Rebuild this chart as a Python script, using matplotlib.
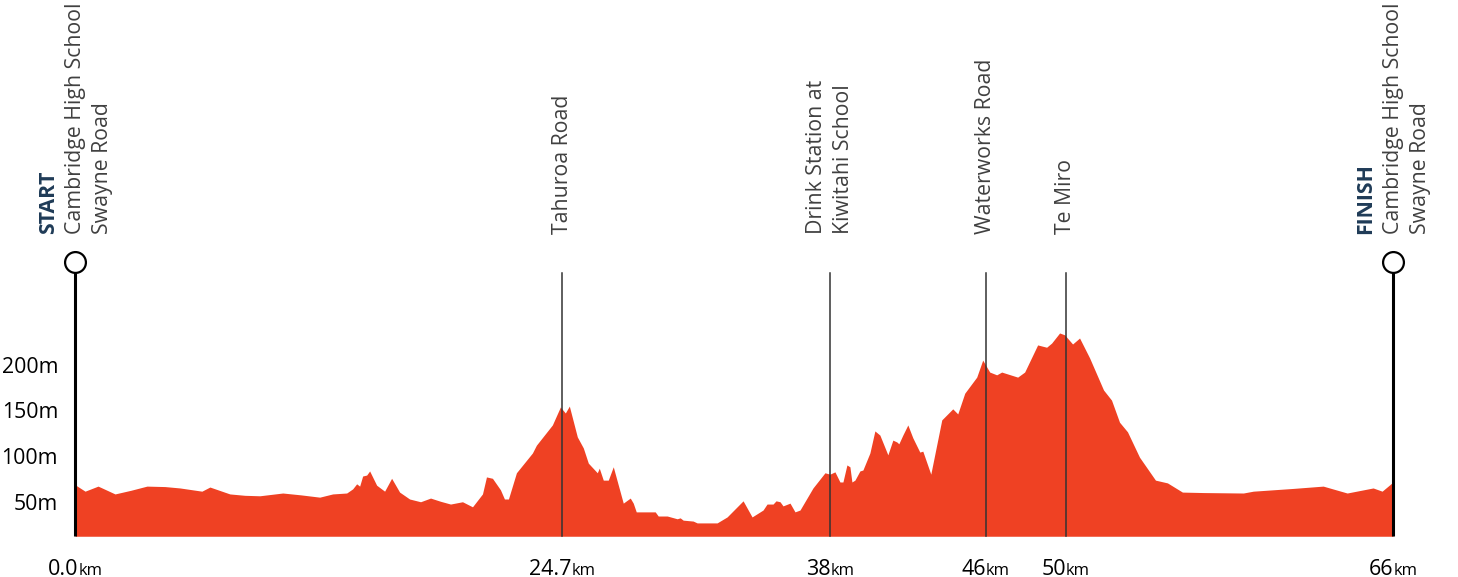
import matplotlib.pyplot as plt
from matplotlib.offsetbox import TextArea, HPacker, AnnotationBbox

# elevation profile (km, metres)
dist_km = [0.0, 0.5, 1.15, 2.0, 2.8, 3.6, 4.5, 5.25, 6.35, 6.75, 7.75, 8.5, 9.25, 10.4, 11.3,
           12.25, 12.9, 13.6, 13.9, 14.1, 14.25, 14.4, 14.6, 14.75, 15.1, 15.5, 15.85, 16.25,
           16.75, 17.3, 17.8, 18.3, 18.8, 19.4, 19.9, 20.4, 20.6, 20.9, 21.3, 21.5, 21.7, 22.1,
           22.9, 23.1, 23.9, 24.3, 24.55, 24.75, 25.15, 25.45, 25.7, 26.15, 26.25, 26.45, 26.7,
           26.95, 27.45, 27.8, 27.95, 28.1, 29.05, 29.2, 29.65, 30.15, 30.3, 30.45, 30.95,
           31.15, 32.15, 32.65, 33.45, 33.9, 34.45, 34.65, 34.95, 35.1, 35.3, 35.45, 35.8,
           36.05, 36.3, 36.95, 37.55, 37.8, 38.05, 38.3, 38.45, 38.65, 38.8, 38.9, 39.05, 39.3,
           39.45, 39.8, 40.05, 40.3, 40.7, 40.95, 41.15, 41.25, 41.45, 41.7, 41.95, 42.3,
           42.45, 42.85, 43.4, 43.95, 44.2, 44.55, 45.15, 45.45, 45.8, 46.15, 46.4, 47.2,
           47.55, 48.2, 48.65, 48.9, 49.3, 49.55, 49.95, 50.3, 50.8, 51.5, 51.9, 52.3, 52.7,
           53.3, 54.1, 54.7, 55.45, 56.5, 58.5, 59.0, 61.0, 62.5, 63.7, 65.0, 65.45, 66.0]
elev_m = [72, 65, 70.5, 62, 66, 70.5, 70, 68.5, 65, 69.5, 62, 60.5, 60, 63, 61,
          58.5, 62, 63, 67.5, 73, 70.5, 81.5, 82.5, 87, 71.5, 65, 79, 64,
          56.5, 53.5, 57.5, 54, 51, 53.5, 48, 62, 80.5, 79, 66.5, 56.5, 56.5, 85,
          106.5, 115, 137, 156.5, 150, 157.5, 124, 112, 95.5, 85, 90, 77, 77,
          91.5, 52, 57.5, 52, 42.5, 42.5, 38, 38, 35, 36, 33.5, 32.5,
          30.5, 30.5, 37, 54.5, 37, 44.5, 51, 51, 54.5, 53.5, 49, 52,
          42.5, 44.5, 68.5, 85, 83.5, 86, 75, 75, 93.5, 91.5, 75, 77, 87,
          88, 106.5, 130.5, 126, 104.5, 120.5, 118.5, 116.5, 126, 137, 123, 107.5,
          108.5, 83.5, 142.5, 154.5, 149, 171.5, 189, 207.5, 194.5, 191.5, 194.5, 189,
          194.5, 224, 221.5, 226, 237, 235, 225, 231.5, 210, 175, 164, 140, 129.5,
          102, 77, 74, 64, 63.5, 63, 65, 68, 70.5, 63, 68.5, 65, 75]

# waypoints: position on the drawn axis, tick label, name lines
wp_pos = [0.0, 24.4, 37.8, 45.6, 49.6, 66.0]
wp_num = ["0.0", "24.7", "38", "46", "50", "66"]
wp_names = [["Cambridge High School", "Swayne Road"],
            ["Tahuroa Road"],
            ["Drink Station at", "Kiwitahi School"],
            ["Waterworks Road"],
            ["Te Miro"],
            ["Cambridge High School", "Swayne Road"]]
wp_head = {0: "START", 5: "FINISH"}
y_ticks = [50, 100, 150, 200]

plt.rcParams['font.family'] = ['Open Sans', 'DejaVu Sans']

fill_col = '#EF4123'
navy = '#1F3B57'
grey = '#404040'
base = 16

fig = plt.figure(figsize=(14.58, 5.77), dpi=100)
ax = fig.add_axes([0, 0, 1, 1])
ax.set_xlim(-3.76, 69.25)
ax.set_ylim(-28.3, 599)
ax.axis('off')

ax.fill_between(dist_km, elev_m, base, color=fill_col, lw=0, zorder=1)

for i, x in enumerate(wp_pos):
    if i in wp_head:
        ax.plot([x, x], [base, 314], color='black', lw=2.2, zorder=3, solid_capstyle='butt')
        ax.plot(x, 314, 'o', ms=15, mfc='white', mec='black', mew=1.6, zorder=4)
    else:
        ax.plot([x, x], [base, 302], color='#333333', lw=1.1, zorder=3)

    # rotated names above the marker
    lines = list(wp_names[i])
    colors = [grey] * len(lines)
    weights = ['normal'] * len(lines)
    if i in wp_head:
        lines = [wp_head[i]] + lines
        colors = [navy] + colors
        weights = ['bold'] + weights
    n = len(lines)
    for k, (txt, c, w) in enumerate(zip(lines, colors, weights)):
        dx = (k - (n - 1) / 2) * 27 * 0.72
        ax.annotate(txt, (x, 345), xytext=(dx, 0), textcoords='offset points',
                    rotation=90, ha='center', va='bottom', fontsize=15.3,
                    color=c, fontweight=w)

    # distance label with small unit
    box = HPacker(children=[TextArea(wp_num[i], textprops=dict(fontsize=15.5, color='black')),
                            TextArea("km", textprops=dict(fontsize=12, color='black'))],
                  align='baseline', pad=0, sep=0)
    ab = AnnotationBbox(box, (x, -20), frameon=False, box_alignment=(0.5, 0.5))
    ax.add_artist(ab)

for v in y_ticks:
    ax.text(-0.85, v, f"{v}m", ha='right', va='center', fontsize=15.3, color='black')

fig.savefig('out.png', dpi=100)
